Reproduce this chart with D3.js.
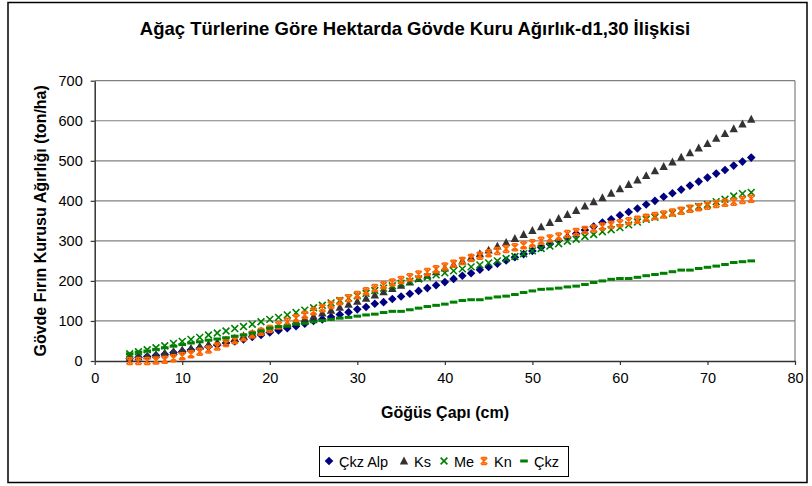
<!DOCTYPE html>
<html>
<head>
<meta charset="utf-8">
<script src="https://cdn.jsdelivr.net/npm/d3@7"></script>
<style>
  body { margin: 0; background: #fff; }
  text { font-family: Arial, "Liberation Sans", sans-serif; }
</style>
</head>
<body>
<svg id="chart" width="812" height="486"></svg>
<script>
// diameters (cm)
const diameters = [4,5,6,7,8,9,10,11,12,13,14,15,16,17,18,19,20,21,22,23,24,25,26,27,28,29,30,31,32,33,34,35,36,37,38,39,
  40,41,42,43,44,45,46,47,48,49,50,51,52,53,54,55,56,57,58,59,60,61,62,63,64,65,66,67,68,69,70,71,72,73,74,75]

const ckzAlp = [6,9,11,14,17,21,24,28,32,36,40,45,49,54,60,65,71,76,82,87,93,100,104,110,116,122,129,135,143,147,155,161,168,175,182,189,
  197,205,213,219,228,235,243,251,259,267,275,284,292,301,309,318,327,336,346,354,364,372,381,391,400,410,419,428,438,448,458,468,477,488,498,508]

const ks = [7,10,13,16,20,24,28,32,37,42,47,52,57,63,69,75,80,86,93,99,106,112,120,127,134,142,149,157,165,173,181,189,197,206,214,223,
  232,241,250,259,268,277,287,296,306,316,326,335,346,356,366,376,387,398,408,419,430,441,452,463,475,486,497,509,520,532,543,556,568,580,592,604]

const me = [18,23,28,33,38,44,49,54,59,65,70,75,81,86,92,98,104,109,115,121,127,133,139,145,151,157,163,169,176,182,188,194,199,205,210,215,
  220,225,230,235,240,245,250,256,261,268,275,281,287,293,299,304,311,316,323,328,333,340,347,354,359,365,369,375,381,386,391,398,404,412,418,421]

const kn = [0,0,0,1,3,7,12,17,23,29,36,45,52,59,66,73,80,89,98,107,115,124,132,140,149,157,165,174,182,189,196,202,209,216,222,229,
  236,243,250,257,263,269,275,280,284,289,294,300,306,311,317,322,327,331,336,340,344,349,353,358,362,366,371,375,380,384,388,392,395,398,402,405]

const ckz = [18,22,25,29,33,37,41,45,48,52,55,58,62,65,70,75,82,86,87,92,94,98,101,104,107,109,112,115,117,121,124,124,128,132,136,139,
  142,147,151,153,153,157,160,162,166,171,175,179,180,182,185,187,191,196,200,204,206,206,209,213,216,219,223,227,227,231,234,237,241,246,248,250]

const xTicks = [0,10,20,30,40,50,60,70,80]
const yTicks = [0,100,200,300,400,500,600,700]

const series = [
  { name: 'Çkz Alp', values: ckzAlp, type: 'diamond', color: '#000080' },
  { name: 'Ks', values: ks, type: 'triangle', color: '#333333' },
  { name: 'Me', values: me, type: 'cross', color: '#008000' },
  { name: 'Kn', values: kn, type: 'star', color: '#FF6600' },
  { name: 'Çkz', values: ckz, type: 'dash', color: '#008000' }
]

const svg = d3.select('#chart')
const plot = { left: 94.7, right: 795, top: 80.7, bottom: 361 }

const x = d3.scaleLinear().domain([0, 80]).range([plot.left, plot.right])
const y = d3.scaleLinear().domain([0, 700]).range([plot.bottom, plot.top])

// outer frame
svg.append('rect')
  .attr('x', 8).attr('y', 2.5).attr('width', 799).attr('height', 480)
  .attr('fill', '#fff').attr('stroke', '#000').attr('stroke-width', 1.5)

// title
svg.append('text')
  .attr('x', 415).attr('y', 35)
  .attr('text-anchor', 'middle')
  .style('font-size', '18.5px').style('font-weight', 'bold')
  .text('Ağaç Türlerine Göre Hektarda Gövde Kuru Ağırlık-d1,30 İlişkisi')

// gridlines
svg.append('g')
  .selectAll('line')
  .data(yTicks.filter(d => d > 0))
  .enter()
  .append('line')
  .attr('x1', plot.left).attr('x2', plot.right)
  .attr('y1', d => y(d)).attr('y2', d => y(d))
  .attr('stroke', '#808080').attr('stroke-width', 1.2)

// right border of plot area
svg.append('line')
  .attr('x1', plot.right).attr('x2', plot.right)
  .attr('y1', plot.top).attr('y2', plot.bottom)
  .attr('stroke', '#808080').attr('stroke-width', 1.2)

// axes
const xAxis = svg.append('g')
  .attr('transform', `translate(0,${plot.bottom})`)
  .call(d3.axisBottom(x).tickValues(xTicks).tickSize(4).tickPadding(8).tickSizeOuter(0))
const yAxis = svg.append('g')
  .attr('transform', `translate(${plot.left},0)`)
  .call(d3.axisLeft(y).tickValues(yTicks).tickSize(4).tickPadding(8).tickSizeOuter(0))

;[xAxis, yAxis].forEach(a => {
  a.select('.domain').attr('stroke', '#333').attr('stroke-width', 1.5)
  a.selectAll('.tick line').attr('stroke', '#333').attr('stroke-width', 1.2)
  a.selectAll('.tick text').style('font-size', '14.5px').attr('fill', '#000')
    .style('font-family', 'Arial, "Liberation Sans", sans-serif')
})

// axis titles
svg.append('text')
  .attr('x', 445).attr('y', 418)
  .attr('text-anchor', 'middle')
  .style('font-size', '16px').style('font-weight', 'bold')
  .text('Göğüs Çapı (cm)')

svg.append('text')
  .attr('transform', `translate(46,${(plot.top + plot.bottom) / 2}) rotate(-90)`)
  .attr('text-anchor', 'middle')
  .style('font-size', '16px').style('font-weight', 'bold')
  .text('Gövde Fırın Kurusu Ağırlığı (ton/ha)')

// marker drawing
function drawMarker(g, type, color) {
  if (type === 'diamond') {
    g.append('path').attr('d', 'M0,-4.3L4.3,0L0,4.3L-4.3,0Z').attr('fill', color)
  } else if (type === 'triangle') {
    g.append('path').attr('d', 'M0,-4.4L4.2,3.5L-4.2,3.5Z').attr('fill', color)
  } else if (type === 'cross') {
    g.append('path').attr('d', 'M-3.4,-3.4L3.4,3.4M-3.4,3.4L3.4,-3.4')
      .attr('stroke', color).attr('stroke-width', 1.6).attr('fill', 'none')
  } else if (type === 'star') {
    g.append('path').attr('d', 'M-3.3,-3.3L3.3,3.3M-3.3,3.3L3.3,-3.3M0,-3.8L0,3.8M-2.5,-3.5L2.5,-3.5M-2.5,3.5L2.5,3.5')
      .attr('stroke', color).attr('stroke-width', 1.5).attr('fill', 'none')
  } else if (type === 'dash') {
    g.append('rect').attr('x', -3.8).attr('y', -1.5).attr('width', 7.6).attr('height', 3).attr('fill', color)
  }
}

series.forEach(s => {
  svg.append('g')
    .selectAll('g')
    .data(s.values)
    .enter()
    .append('g')
    .attr('transform', (d, i) => `translate(${x(diameters[i])},${y(d)})`)
    .each(function () { drawMarker(d3.select(this), s.type, s.color) })
})

// legend
const legend = svg.append('g')
legend.append('rect')
  .attr('x', 319.5).attr('y', 446.5).attr('width', 249).attr('height', 30)
  .attr('fill', '#fff').attr('stroke', '#000').attr('stroke-width', 1)

const legendX = [329, 404, 444, 484, 524]
series.forEach((s, i) => {
  const g = legend.append('g').attr('transform', `translate(${legendX[i]},461)`)
  drawMarker(g, s.type, s.color)
  legend.append('text')
    .attr('x', legendX[i] + 10).attr('y', 466.5)
    .style('font-size', '14.5px')
    .text(s.name)
})
</script>
</body>
</html>
